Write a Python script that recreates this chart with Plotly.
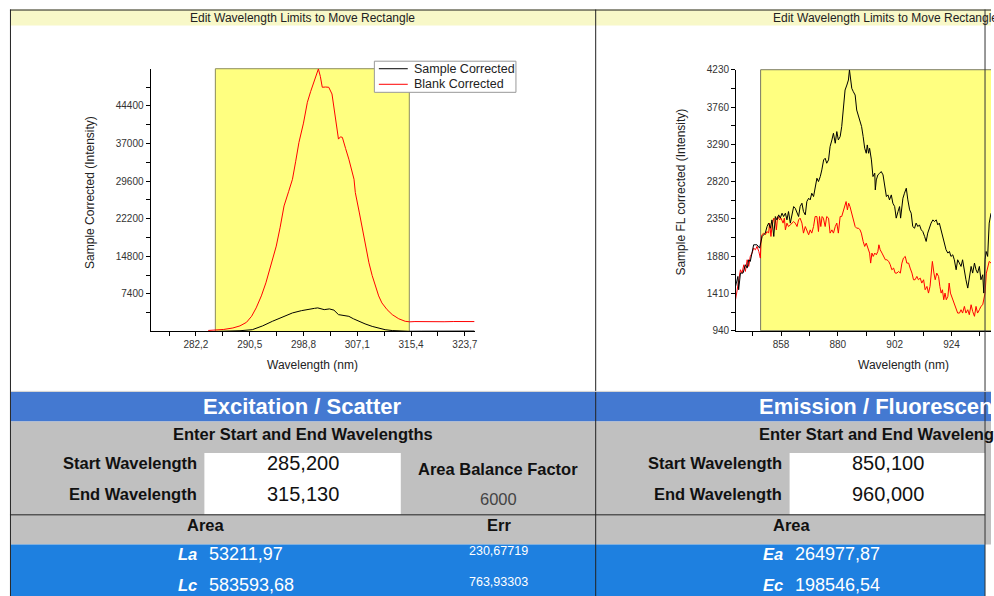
import plotly.graph_objects as go

W, H = 994, 596
# vertical placement of the layout: top offset and scale of the drawn page, in px
Y_TOP, Y_SCALE = 6.5, 0.978
FONT = "Arial, 'Liberation Sans', sans-serif"

# ---------------- Excitation / scatter spectra (wavelength nm, intensity) ----------------
ex_blank_pts = [
    (284.1, 200), (285.2, 260), (286.5, 400), (287.9, 690), (289.0, 1100), (290.0, 1800),
    (290.8, 3000), (291.5, 4640), (292.3, 7000), (293.0, 9570), (293.8, 13000), (294.6, 16800),
    (295.2, 20500), (295.8, 24700), (296.5, 27500), (297.1, 29950), (297.6, 33500), (298.1, 37200),
    (298.8, 41000), (299.4, 45100), (299.9, 47200), (300.4, 49040), (300.8, 50500), (301.1, 51650),
    (301.4, 50200), (301.7, 48050), (302.2, 48100), (302.7, 48050), (303.2, 46730), (303.7, 42450),
    (304.2, 37850), (304.5, 38300), (304.8, 38190), (305.3, 36000), (305.8, 33900), (306.6, 29950),
    (306.8, 27330), (307.4, 23500), (307.9, 20090), (308.4, 16500), (308.9, 13520), (309.4, 11000),
    (309.9, 8900), (310.4, 7000), (310.9, 5620), (311.7, 4300), (312.5, 3320), (313.5, 2500),
    (314.5, 2000), (315.2, 1900), (316.0, 1950), (317.5, 1900), (319.0, 1980), (320.5, 1920),
    (322.0, 1960), (323.5, 1930), (325.2, 1950),
]
ex_sample_pts = [
    (285.0, 0), (287.0, 40), (289.0, 150), (290.9, 350), (292.5, 1100), (294.0, 2000),
    (295.5, 2800), (297.1, 3650), (298.5, 4100), (299.7, 4440), (300.5, 4550), (301.0, 4640),
    (301.5, 4500), (302.0, 4300), (302.8, 4440), (303.5, 4200), (304.2, 3320), (305.0, 3150),
    (305.8, 2980), (306.5, 2500), (307.3, 1990), (308.3, 1500), (309.4, 1000), (310.4, 650),
    (311.4, 350), (312.5, 180), (313.5, 80), (315.0, 40), (317.0, 60), (319.0, 40),
    (321.0, 80), (323.0, 60), (325.2, 80),
]

# ---------------- Emission / fluorescence spectra ----------------
em_sample_pts = [
    (840.4, 1498), (841.3, 1624), (841.6, 1456), (842.3, 1666), (843.3, 1666), (844.2, 1771),
    (844.9, 1729), (845.5, 1834), (846.1, 1813), (846.8, 1939), (847.4, 2023), (848.7, 2023),
    (849.7, 1981), (850.7, 2128), (851.9, 2170), (852.6, 2253), (853.2, 2296), (853.9, 2232),
    (854.5, 2337), (855.2, 2128), (855.8, 2379), (856.4, 2337), (857.1, 2400), (857.7, 2359),
    (858.4, 2421), (859.0, 2379), (859.7, 2421), (860.3, 2337), (860.9, 2442), (861.6, 2296),
    (862.2, 2400), (862.9, 2505), (863.5, 2484), (864.2, 2421), (864.8, 2379), (865.4, 2505),
    (866.1, 2547), (866.7, 2442), (867.4, 2400), (868.0, 2568), (868.7, 2610), (869.3, 2589),
    (869.9, 2673), (870.6, 2631), (871.2, 2757), (871.9, 2862), (872.5, 2820), (873.2, 2883),
    (873.8, 2967), (874.5, 3093), (875.1, 3114), (875.7, 3051), (876.4, 3093), (877.0, 3261),
    (877.7, 3345), (878.3, 3429), (879.0, 3303), (879.6, 3450), (880.2, 3345), (880.9, 3387),
    (881.5, 3513), (882.2, 3764), (882.8, 3974), (883.5, 4037), (884.1, 4100), (884.5, 4228),
    (885.0, 4100), (885.4, 3995), (886.0, 3953), (886.7, 3911), (887.3, 3722), (888.0, 3638),
    (888.6, 3576), (889.2, 3513), (889.8, 3387), (890.4, 3240), (891.0, 3177), (891.4, 3282),
    (891.9, 3177), (892.3, 3240), (893.0, 3093), (893.6, 2883), (894.3, 2925), (894.5, 2715),
    (894.9, 2841), (895.5, 2904), (896.2, 2925), (896.8, 2946), (897.5, 2904), (898.1, 2757),
    (898.8, 2631), (899.4, 2652), (900.0, 2589), (900.7, 2652), (901.3, 2547), (902.0, 2505),
    (902.6, 2359), (903.3, 2442), (903.9, 2505), (904.3, 2359), (904.8, 2505), (905.2, 2610),
    (905.8, 2673), (906.5, 2736), (907.1, 2589), (907.8, 2463), (908.4, 2421), (909.0, 2253),
    (909.7, 2232), (910.3, 2296), (911.0, 2253), (911.6, 2274), (912.3, 2211), (912.9, 2190),
    (913.6, 2128), (914.2, 2065), (914.8, 2170), (915.5, 2253), (916.1, 2296), (916.8, 2337),
    (917.4, 2316), (918.1, 2337), (918.7, 2274), (919.3, 2296), (920.0, 2211), (920.6, 2128),
    (921.3, 2065), (921.9, 1960), (922.6, 1918), (923.2, 1939), (923.8, 1876), (924.5, 1897),
    (925.1, 1834), (925.8, 1708), (926.4, 1834), (927.1, 1792), (927.7, 1750), (928.3, 1834),
    (929.0, 1666), (929.6, 1582), (930.3, 1477), (930.9, 1624), (931.6, 1750), (932.2, 1666),
    (932.9, 1792), (933.5, 1708), (934.1, 1666), (934.8, 1750), (935.4, 1582), (936.1, 1645),
    (936.5, 1414), (937.0, 1834), (937.4, 1939), (938.0, 1876), (938.6, 2296), (939.3, 2421),
]
em_blank_pts = [
    (840.4, 1330), (841.0, 1456), (841.6, 1582), (842.3, 1708), (842.9, 1666), (843.6, 1771),
    (844.2, 1687), (844.9, 1834), (845.5, 1750), (846.1, 1876), (846.8, 1918), (847.4, 1981),
    (848.1, 1960), (848.7, 2002), (849.4, 1939), (850.0, 1855), (850.3, 2086), (850.6, 2149),
    (851.3, 2170), (851.9, 2149), (852.6, 2190), (853.2, 2170), (853.6, 2296), (854.1, 2128),
    (854.5, 2253), (855.2, 2359), (855.8, 2337), (856.2, 2211), (856.7, 2379), (857.5, 2337),
    (858.0, 2359), (858.8, 2296), (859.3, 2359), (859.7, 2211), (860.3, 2296), (860.9, 2253),
    (861.6, 2274), (862.2, 2296), (862.9, 2316), (863.5, 2296), (864.2, 2253), (864.8, 2337),
    (865.4, 2359), (866.1, 2296), (866.7, 2170), (867.4, 2253), (868.0, 2211), (868.7, 2149),
    (869.3, 2211), (869.9, 2170), (870.6, 2253), (871.2, 2379), (871.9, 2379), (872.5, 2190),
    (872.9, 2379), (873.4, 2253), (873.9, 2379), (874.4, 2359), (875.1, 2253), (875.7, 2379),
    (876.4, 2359), (877.0, 2170), (877.7, 2211), (878.3, 2170), (879.0, 2253), (879.6, 2296),
    (880.2, 2170), (880.9, 2379), (881.5, 2379), (882.2, 2463), (882.8, 2505), (883.2, 2568),
    (883.7, 2463), (884.2, 2547), (884.7, 2505), (885.4, 2421), (886.0, 2337), (886.7, 2253),
    (887.3, 2232), (888.0, 2232), (888.6, 2211), (889.1, 2170), (889.8, 2065), (890.4, 2002),
    (891.0, 2044), (891.7, 1960), (892.3, 1918), (892.7, 1792), (893.2, 1918), (893.7, 1876),
    (894.3, 1918), (894.9, 1897), (895.5, 1939), (895.9, 2023), (896.4, 1960), (897.1, 1918),
    (897.7, 1876), (898.4, 1834), (899.0, 1834), (899.7, 1813), (900.3, 1771), (900.9, 1708),
    (901.6, 1729), (902.2, 1666), (902.9, 1666), (903.5, 1687), (904.2, 1666), (904.8, 1792),
    (905.4, 1855), (906.1, 1876), (906.7, 1792), (907.4, 1792), (908.0, 1729), (908.7, 1666),
    (909.3, 1582), (909.9, 1582), (910.6, 1624), (911.2, 1582), (911.9, 1603), (912.5, 1540),
    (913.2, 1582), (913.8, 1456), (914.5, 1498), (915.1, 1414), (915.7, 1498), (916.1, 1624),
    (916.6, 1813), (917.2, 1666), (917.7, 1582), (918.3, 1666), (919.0, 1624), (919.5, 1498),
    (920.0, 1414), (920.5, 1456), (921.0, 1330), (921.5, 1414), (922.0, 1330), (922.6, 1372),
    (923.1, 1540), (923.6, 1414), (924.1, 1372), (924.6, 1330), (925.1, 1288), (925.8, 1225),
    (926.4, 1162), (927.1, 1162), (927.7, 1204), (928.3, 1162), (929.0, 1246), (929.6, 1162),
    (930.3, 1204), (930.9, 1141), (931.6, 1267), (932.2, 1183), (932.9, 1121), (933.5, 1246),
    (934.1, 1162), (934.8, 1204), (935.4, 1246), (936.1, 1267), (936.5, 1330), (937.0, 1414),
    (937.5, 1666), (938.0, 1750), (938.6, 1813), (939.3, 1792),
]

# ---------------- Integration limits and results ----------------
ex_start, ex_end = 285.2, 315.13
em_start, em_end = 850.1, 960.0
area_balance_factor = 6000
ex_area_labels = ["La", "Lc"]
ex_area_values = [53211.97, 583593.68]
ex_err_values = [230.67719, 763.93303]
em_area_labels = ["Ea", "Ec"]
em_area_values = [264977.87, 198546.54]

# ---------------- Axis ticks ----------------
ex_x_tick0, ex_x_dtick = 282.2, 8.3
ex_y_ticks = [7400, 14800, 22200, 29600, 37000, 44400]
ex_y_minor = [3700, 11100, 18500, 25900, 33300, 40700, 48100]
em_x_tick0, em_x_dtick = 858, 22
em_y_tick0, em_y_dtick = 940, 470


def comma(v, nd):
    return f"{v:.{nd}f}".replace(".", ",")


def fx(p):
    """horizontal position (px) -> paper fraction"""
    return p / W


def fy(p):
    """vertical position (px, top-down) -> paper fraction"""
    return 1 - (p - Y_TOP) / (H * Y_SCALE)


def unzip(pts):
    return [p[0] for p in pts], [p[1] for p in pts]


traces = [
    ("Sample Corrected", ex_sample_pts, "#000000", "x", "y"),
    ("Blank Corrected", ex_blank_pts, "#ff0000", "x", "y"),
    ("Blank FL corrected", em_blank_pts, "#ff0000", "x2", "y2"),
    ("Sample FL corrected", em_sample_pts, "#000000", "x2", "y2"),
]

fig = go.Figure()
for name, pts, color, xa, ya in traces:
    x, y = unzip(pts)
    fig.add_trace(go.Scatter(x=x, y=y, mode="lines", name=name, showlegend=False,
                             line=dict(color=color, width=1), xaxis=xa, yaxis=ya))

axis_style = dict(
    showline=True, linecolor="#000", linewidth=1, mirror=False,
    ticks="outside", ticklen=4, tickwidth=1, tickcolor="#000",
    showgrid=False, zeroline=False,
    tickfont=dict(family=FONT, size=10, color="#333"),
)

shapes = []
ann = []


def rect(x0, y0, x1, y1, fill, line=None, lw=0, layer="below"):
    shapes.append(dict(type="rect", xref="paper", yref="paper",
                       x0=fx(x0), x1=fx(x1), y0=fy(y1), y1=fy(y0),
                       fillcolor=fill, line=dict(color=line or fill, width=lw), layer=layer))


def hline(x0, x1, yy, color="#000", w=1):
    shapes.append(dict(type="line", xref="paper", yref="paper",
                       x0=fx(x0), x1=fx(x1), y0=fy(yy), y1=fy(yy),
                       line=dict(color=color, width=w), layer="above"))


def vline(xx, y0, y1, color="#000", w=1):
    shapes.append(dict(type="line", xref="paper", yref="paper",
                       x0=fx(xx), x1=fx(xx), y0=fy(y0), y1=fy(y1),
                       line=dict(color=color, width=w), layer="above"))


def text(xx, yy, s, size, color="#000", anchor="center", angle=0):
    ann.append(dict(xref="paper", yref="paper", x=fx(xx), y=fy(yy), text=s,
                    showarrow=False, xanchor=anchor, yanchor="middle", textangle=angle,
                    font=dict(family=FONT, size=size, color=color)))


# selection rectangles on the spectra
shapes.append(dict(type="rect", xref="x", yref="y domain", x0=ex_start, x1=ex_end, y0=0, y1=1,
                   fillcolor="#ffff80", line=dict(color="#8c8c5a", width=1), layer="below"))
shapes.append(dict(type="rect", xref="x2", yref="y2 domain", x0=em_start, x1=em_end, y0=0, y1=1,
                   fillcolor="#ffff80", line=dict(color="#7a7a60", width=1), layer="below"))

# panel backgrounds
rect(11, 11, 994, 27, "#f8f8c8")
rect(11, 392, 994, 421.5, "#4479d1")
rect(11, 421.5, 994, 544, "#c0c0c0")
rect(11, 544, 988, 610, "#1e80e0")
rect(205, 453, 402, 514, "#ffffff")
rect(792, 453, 988, 514, "#ffffff")

# borders
hline(10, 994, 11.5, "#222")
vline(10.5, 11, 610, "#222")
vline(597.5, 11, 610, "#222")
vline(988, 11, 610, "#333")
hline(10, 988, 514.5, "#222")
hline(11, 994, 391.5, "#d0d0d0")

title_txt = "Edit Wavelength Limits to Move Rectangle"
text(303.5, 19, title_txt, 12, "#222")
text(773, 19, title_txt, 12, "#222", anchor="left")

# legend of the excitation chart
rect(375.5, 62.5, 517.5, 93.5, "#ffffff", line="#999999", lw=1, layer="above")
for i, (name, pts, color, xa, ya) in enumerate(traces[:2]):
    yy = 70 + 15.5 * i
    hline(380, 409, yy, color, 1)
    text(413, yy, name, 12.5, "#222", anchor="left")

# axis titles
text(313, 365, "Wavelength (nm)", 12, "#222")
text(906, 365, "Wavelength (nm)", 12, "#222")
text(90, 193, "Sample Corrected (Intensity)", 12, "#222", angle=-90)
text(683, 192.5, "Sample FL corrected (Intensity)", 12, "#222", angle=-90)

# tables
panels = [
    (0, "Excitation / Scatter", ex_start, ex_end, ex_area_labels, ex_area_values),
    (587, "Emission / Fluorescence", em_start, em_end, em_area_labels, em_area_values),
]
for dx, head, start, end, labels, values in panels:
    if dx == 0:
        text(303.5, 406.5, f"<b>{head}</b>", 22, "#ffffff")
        text(303.5, 433.5, "<b>Enter Start and End Wavelengths</b>", 16.5, "#111")
    else:
        text(759.5, 406.5, f"<b>{head}</b>", 22, "#ffffff", anchor="left")
        text(759.5, 433.5, "<b>Enter Start and End Wavelengths</b>", 16.5, "#111", anchor="left")
    text(199.5 + dx, 463, "<b>Start Wavelength</b>", 16.5, "#111", anchor="right")
    text(199.5 + dx, 494, "<b>End Wavelength</b>", 16.5, "#111", anchor="right")
    text(303.5 + dx, 463, comma(start, 3), 20, "#111")
    text(303.5 + dx, 494, comma(end, 3), 20, "#111")
    text(207 + dx, 525, "<b>Area</b>", 16.5, "#111")
    for i, (lab, val) in enumerate(zip(labels, values)):
        yy = 553.5 + 30.5 * i
        text(200 + dx, yy, f"<b><i>{lab}</i></b>", 16.5, "#ffffff", anchor="right")
        text(208 + dx, yy, comma(val, 2), 18, "#ffffff", anchor="left")

text(500, 469, "<b>Area Balance Factor</b>", 16.5, "#111")
text(500, 499, str(area_balance_factor), 16.5, "#444")
text(500.5, 525, "<b>Err</b>", 16.5, "#111")
for i, err in enumerate(ex_err_values):
    text(500.5, 550.5 + 30.5 * i, comma(err, 5), 12.5, "#ffffff")

fig.update_layout(
    width=W, height=H, autosize=False,
    margin=dict(l=0, r=0, t=0, b=0, pad=0),
    paper_bgcolor="#ffffff", plot_bgcolor="rgba(0,0,0,0)",
    separators=",.",
    showlegend=False,
    font=dict(family=FONT, size=12, color="#222"),
    xaxis=dict(axis_style, anchor="y", domain=[fx(151), fx(476)], range=[275.2, 325.2],
               tick0=ex_x_tick0, dtick=ex_x_dtick, tickformat=".1f",
               minor=dict(ticks="outside", ticklen=4, tickcolor="#000", tick0=ex_x_tick0,
                          dtick=ex_x_dtick / 2)),
    yaxis=dict(axis_style, anchor="x", domain=[fy(331.8), fy(70)], range=[0, 51700],
               tickmode="array", tickvals=ex_y_ticks, tickformat="d",
               minor=dict(ticks="outside", ticklen=4, tickcolor="#000", tickmode="array",
                          tickvals=ex_y_minor)),
    xaxis2=dict(axis_style, anchor="y2", domain=[fx(738.3), 1], range=[840.6, 939.3],
                tick0=em_x_tick0, dtick=em_x_dtick, tickformat="d",
                minor=dict(ticks="outside", ticklen=4, tickcolor="#000", tick0=em_x_tick0,
                           dtick=em_x_dtick / 2)),
    yaxis2=dict(axis_style, anchor="x2", domain=[fy(331), fy(71)], range=[940, 4230],
                tick0=em_y_tick0, dtick=em_y_dtick, tickformat="d",
                minor=dict(ticks="outside", ticklen=4, tickcolor="#000", tick0=em_y_tick0,
                           dtick=em_y_dtick / 2)),
    shapes=shapes,
    annotations=ann,
)

fig.write_html("out.html", config={"responsive": False})
